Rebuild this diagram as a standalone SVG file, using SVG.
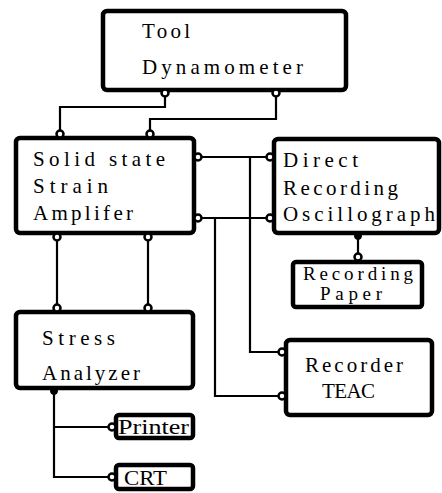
<svg xmlns="http://www.w3.org/2000/svg" width="442" height="493" viewBox="0 0 442 493">
<style>
.box{fill:#fff;stroke:#000;stroke-width:4.5;}
.line{fill:none;stroke:#000;stroke-width:2.2;}
.ring{fill:#fff;stroke:#000;stroke-width:2.5;}
.dot{fill:#000;stroke:#000;stroke-width:1;}
text{font-family:"Liberation Serif","Times New Roman",serif;fill:#000;}
.lbl{font-size:21px;}
.sm{font-size:21px;}
.xs{font-size:19px;}
.md{font-size:22px;}
</style>
<rect width="442" height="493" fill="#fff"/>
<g id="connectors">
<polyline class="line" points="165,93 165,107 60,107 60,133"/>
<polyline class="line" points="276,93 276,119 150,119 150,133"/>
<line class="line" x1="57" y1="237" x2="57" y2="308"/>
<line class="line" x1="148" y1="237" x2="148" y2="308"/>
<line class="line" x1="198" y1="157" x2="270" y2="157"/>
<line class="line" x1="198" y1="218" x2="270" y2="218"/>
<polyline class="line" points="250,157 250,352 282,352"/>
<polyline class="line" points="215,218 215,396 282,396"/>
<line class="line" x1="358" y1="236" x2="358" y2="257"/>
<polyline class="line" points="54,391 54,477 112,477"/>
<line class="line" x1="54" y1="427" x2="112" y2="427"/>
</g>
<g id="tool">
<rect class="box" x="103" y="11" width="243" height="79" rx="4"/>
<text class="lbl" x="142" y="38" textLength="48" lengthAdjust="spacing">Tool</text>
<text class="lbl" x="142" y="74" textLength="161" lengthAdjust="spacing">Dynamometer</text>
<circle class="ring" cx="165" cy="93" r="3.5"/>
<circle class="ring" cx="276" cy="93" r="3.5"/>
</g>
<g id="amplifier">
<rect class="box" x="16" y="138" width="178" height="95" rx="4"/>
<text class="lbl" x="33" y="166" textLength="132" lengthAdjust="spacing">Solid state</text>
<text class="lbl" x="33" y="193" textLength="75" lengthAdjust="spacing">Strain</text>
<text class="lbl" x="33" y="220" textLength="100" lengthAdjust="spacing">Amplifer</text>
<circle class="ring" cx="60" cy="134" r="3.5"/>
<circle class="ring" cx="150" cy="134" r="3.5"/>
<circle class="ring" cx="198" cy="157" r="3.5"/>
<circle class="ring" cx="198" cy="218" r="3.5"/>
<circle class="ring" cx="57" cy="237" r="3.5"/>
<circle class="ring" cx="148" cy="237" r="3.5"/>
</g>
<g id="oscillograph">
<rect class="box" x="274" y="139" width="165" height="94" rx="4"/>
<text class="lbl" x="283" y="167" textLength="75" lengthAdjust="spacing">Direct</text>
<text class="lbl" x="283" y="195" textLength="115" lengthAdjust="spacing">Recording</text>
<text class="lbl" x="283" y="221" textLength="152" lengthAdjust="spacing">Oscillograph</text>
<circle class="ring" cx="270" cy="157" r="3.5"/>
<circle class="ring" cx="270" cy="218" r="3.5"/>
<circle class="dot" cx="358" cy="236" r="3.5"/>
</g>
<g id="recording-paper">
<rect class="box" x="293" y="262" width="129" height="45" rx="3"/>
<text class="xs" x="303" y="280" textLength="110" lengthAdjust="spacing">Recording</text>
<text class="xs" x="320" y="300" textLength="62" lengthAdjust="spacing">Paper</text>
<circle class="ring" cx="358" cy="257" r="3.5"/>
</g>
<g id="recorder">
<rect class="box" x="286" y="340" width="146" height="75" rx="4"/>
<text class="sm" x="305" y="372" textLength="98" lengthAdjust="spacing">Recorder</text>
<text class="sm" x="322" y="398" textLength="53" lengthAdjust="spacing">TEAC</text>
<circle class="ring" cx="282" cy="352" r="3.5"/>
<circle class="ring" cx="282" cy="396" r="3.5"/>
</g>
<g id="stress-analyzer">
<rect class="box" x="16" y="312" width="177" height="76" rx="4"/>
<text class="lbl" x="42" y="345" textLength="73" lengthAdjust="spacing">Stress</text>
<text class="lbl" x="42" y="380" textLength="98" lengthAdjust="spacing">Analyzer</text>
<circle class="ring" cx="57" cy="308" r="3.5"/>
<circle class="ring" cx="148" cy="308" r="3.5"/>
<circle class="dot" cx="54" cy="391" r="3.5"/>
</g>
<g id="printer">
<rect class="box" x="116" y="415" width="77" height="23" rx="3"/>
<text class="md" x="118" y="434" textLength="71" lengthAdjust="spacingAndGlyphs">Printer</text>
<circle class="ring" cx="112" cy="427" r="3.5"/>
</g>
<g id="crt">
<rect class="box" x="116" y="465" width="77" height="24" rx="3"/>
<text class="md" x="124" y="485" textLength="43" lengthAdjust="spacingAndGlyphs">CRT</text>
<circle class="ring" cx="112" cy="477" r="3.5"/>
</g>
</svg>
